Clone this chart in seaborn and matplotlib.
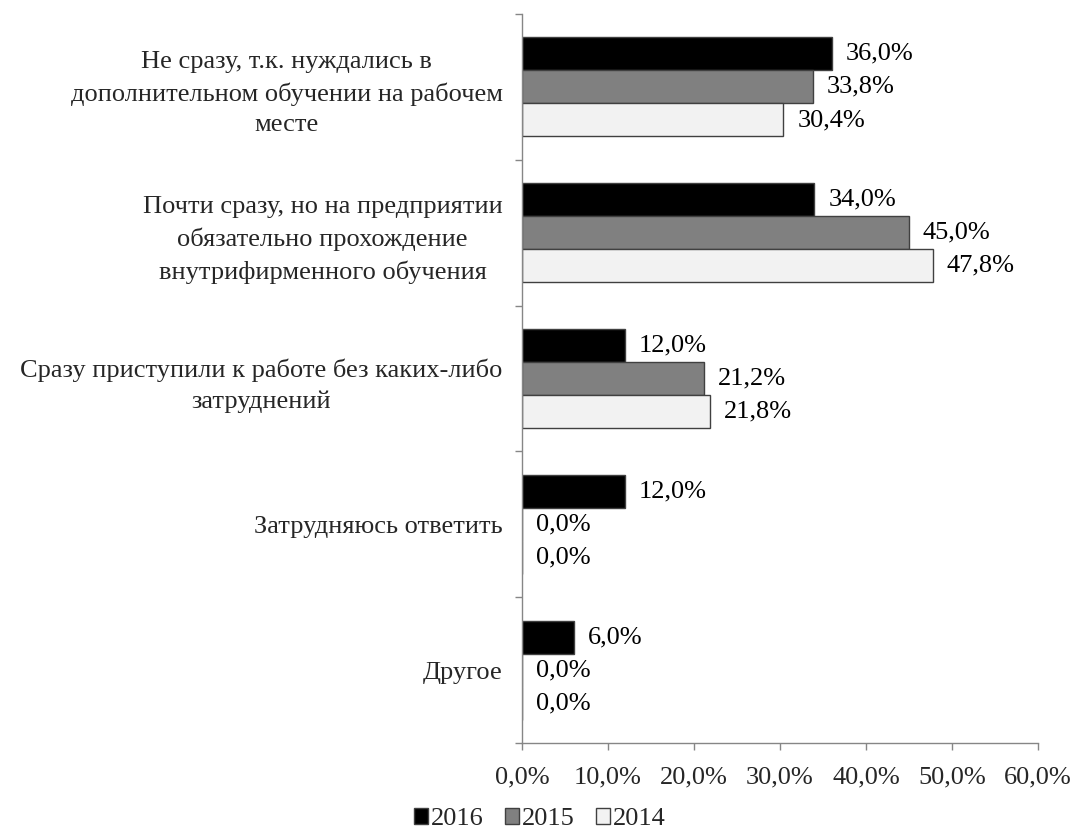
import matplotlib
matplotlib.use("Agg")
import matplotlib.pyplot as plt
from matplotlib.patches import Patch
import seaborn as sns
import pandas as pd

categories = [
    "Не сразу, т.к. нуждались в\nдополнительном обучении на рабочем\nместе",
    "Почти сразу, но на предприятии\nобязательно прохождение\nвнутрифирменного обучения",
    "Сразу приступили к работе без каких-либо\nзатруднений",
    "Затрудняюсь ответить",
    "Другое",
]
years = ["2016", "2015", "2014"]
values_2016 = [36.0, 34.0, 12.0, 12.0, 6.0]
values_2015 = [33.8, 45.0, 21.2, 0.0, 0.0]
values_2014 = [30.4, 47.8, 21.8, 0.0, 0.0]
x_ticks = [0, 10, 20, 30, 40, 50, 60]

colors = {"2016": "#000000", "2015": "#808080", "2014": "#f2f2f2"}

rows = []
for year, vals in zip(years, [values_2016, values_2015, values_2014]):
    for cat, v in zip(categories, vals):
        rows.append({"category": cat, "year": year, "value": v})
df = pd.DataFrame(rows)

sns.set_theme(style="white")
plt.rcParams["font.family"] = ["Liberation Serif", "DejaVu Serif"]
FS = 19

fig = plt.figure(figsize=(10.75, 8.39), dpi=100)
ax = fig.add_axes([0.4856, 0.1144, 0.48, 0.8689])

sns.barplot(data=df, y="category", x="value", hue="year", order=categories,
            hue_order=years, palette=colors, orient="h", width=0.68,
            edgecolor="#404040", linewidth=1.0, saturation=1, ax=ax,
            legend=False, errorbar=None)

def fmt(v):
    return f"{v:.1f}%".replace(".", ",")

for cont, year in zip(ax.containers, years):
    vals = [r.get_width() for r in cont]
    ax.bar_label(cont, labels=[fmt(v) for v in vals], padding=10,
                 fontsize=FS, color="#000000")

ax.set_xlim(0, 60)
ax.set_ylim(len(categories) - 0.5, -0.5)
ax.set_xticks(x_ticks)
ax.set_xticklabels([fmt(t) for t in x_ticks], fontsize=FS)
ax.set_xlabel("")
ax.set_ylabel("")

# category labels centred on groups, tick marks on group boundaries
ax.set_yticks(range(len(categories)))
ax.set_yticklabels(categories, fontsize=FS, multialignment="center",
                   linespacing=1.5)
ax.tick_params(axis="y", which="major", length=0, pad=14)
ax.set_yticks([i - 0.5 for i in range(len(categories) + 1)], minor=True)
ax.tick_params(axis="y", which="minor", length=5, color="#868686", width=1,
               direction="out", left=True)
ax.tick_params(axis="x", which="major", length=5, color="#868686", width=1,
               direction="out", bottom=True, pad=12)

for side in ["top", "right"]:
    ax.spines[side].set_visible(False)
for side in ["left", "bottom"]:
    ax.spines[side].set_color("#868686")
    ax.spines[side].set_linewidth(1)
ax.grid(False)

handles = [Patch(facecolor=colors[y], edgecolor="#404040", linewidth=1.0, label=y)
           for y in years]
fig.legend(handles=handles, loc="center", bbox_to_anchor=(0.502, 0.024),
           ncol=3, frameon=False, fontsize=FS, handlelength=0.55,
           handleheight=0.55, handletextpad=0.1, columnspacing=0.8)

fig.savefig("out.png", dpi=100, facecolor="white")
